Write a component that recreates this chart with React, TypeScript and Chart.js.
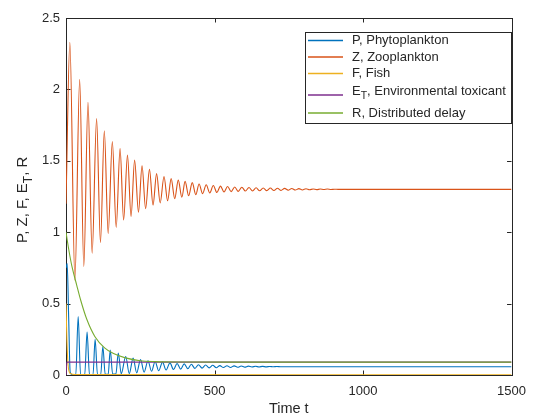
import React, { useEffect, useRef } from "react";
import { Chart, registerables } from "chart.js";

Chart.register(...registerables);

// ---------- data ----------
const xTicks = [0, 500, 1000, 1500];
const yTicks = [0, 0.5, 1, 1.5, 2, 2.5];

const seriesNames = ["P, Phytoplankton", "Z, Zooplankton", "F, Fish", "E_T, Environmental toxicant", "R, Distributed delay"];
const seriesColors = ["#0072BD", "#D95319", "#EDB120", "#7E2F8E", "#77AC30"];

// P, Phytoplankton: times and values of turning points
const pTime = [0, 4, 9, 14, 20, 33, 41, 49, 63, 71, 79, 91, 98, 106, 117, 124, 132, 142, 149, 157, 168, 176, 186, 201, 213, 226, 238, 251, 263, 276, 288, 300, 312, 325, 337, 350, 362, 374, 386, 398, 410, 422, 434, 446, 458, 470, 482, 494, 506, 518, 530, 542, 554, 566, 578, 590, 602, 614, 626, 638, 650, 662, 674, 686, 698, 710, 722, 1500];
const pValue = [0.75, 0.78, 0.4, 0.02, 0.003, 0.003, 0.41, 0.003, 0.003, 0.3, 0.003, 0.003, 0.25, 0.004, 0.004, 0.2, 0.005, 0.005, 0.175, 0.006, 0.007, 0.153, 0.008, 0.13, 0.01, 0.118, 0.015, 0.108, 0.02, 0.1, 0.026, 0.095, 0.03, 0.09, 0.035, 0.085, 0.038, 0.081, 0.041, 0.078, 0.044, 0.075, 0.046, 0.072, 0.048, 0.07, 0.05, 0.068, 0.051, 0.066, 0.052, 0.065, 0.053, 0.064, 0.054, 0.063, 0.055, 0.062, 0.056, 0.061, 0.0565, 0.0605, 0.057, 0.06, 0.0575, 0.0595, 0.058, 0.058];

// Z, Zooplankton
const zTime = [0, 13, 30, 46, 60, 74, 88, 103, 116, 129, 142, 156, 169, 182, 194, 207, 219, 231, 244, 256, 268, 281, 293, 305, 317, 330, 342, 354, 366, 378, 390, 401, 413, 425, 437, 448, 460, 472, 484, 496, 508, 520, 532, 544, 556, 568, 580, 592, 604, 616, 628, 640, 652, 664, 676, 688, 700, 712, 724, 736, 748, 760, 772, 784, 796, 808, 820, 832, 844, 856, 868, 880, 892, 904, 916, 928, 1500];
const zValue = [1.2, 2.33, 0.665, 2.07, 0.76, 1.91, 0.853, 1.795, 0.926, 1.71, 0.99, 1.635, 1.034, 1.585, 1.085, 1.54, 1.11, 1.505, 1.14, 1.465, 1.165, 1.44, 1.19, 1.41, 1.205, 1.39, 1.22, 1.375, 1.235, 1.365, 1.245, 1.356, 1.255, 1.347, 1.263, 1.338, 1.27, 1.332, 1.275, 1.327, 1.278, 1.323, 1.281, 1.32, 1.284, 1.317, 1.286, 1.315, 1.288, 1.313, 1.289, 1.311, 1.29, 1.31, 1.291, 1.309, 1.292, 1.308, 1.293, 1.307, 1.294, 1.306, 1.295, 1.305, 1.296, 1.304, 1.297, 1.303, 1.298, 1.302, 1.299, 1.302, 1.299, 1.301, 1.3, 1.3, 1.3];

// F, Fish
const fTime = [0, 3, 8, 15, 30, 1500];
const fValue = [0.5, 0.25, 0.05, 0.01, 0.003, 0.002];

// E_T, Environmental toxicant
const eTime = [0, 3, 1500];
const eValue = [0, 0.09, 0.09];

// R, Distributed delay
const rTime = [0, 10, 20, 36, 50, 70, 97, 130, 160, 200, 250, 300, 400, 600, 1500];
const rValue = [1.0, 0.87, 0.76, 0.63, 0.52, 0.39, 0.27, 0.19, 0.15, 0.12, 0.1, 0.094, 0.091, 0.09, 0.09];

const seriesTimes = [pTime, zTime, fTime, eTime, rTime];
const seriesValues = [pValue, zValue, fValue, eValue, rValue];

const FONT = "'Liberation Sans', Arial, Helvetica, sans-serif";
const AXIS_COLOR = "#262626";

function drawSubText(ctx: CanvasRenderingContext2D, text: string, x: number, y: number, size: number) {
  const parts: { t: string; sub: boolean }[] = [];
  let i = 0;
  let buf = "";
  while (i < text.length) {
    if (text[i] === "_" && i + 1 < text.length) {
      if (buf) parts.push({ t: buf, sub: false });
      buf = "";
      parts.push({ t: text[i + 1], sub: true });
      i += 2;
    } else {
      buf += text[i];
      i++;
    }
  }
  if (buf) parts.push({ t: buf, sub: false });
  let cx = x;
  for (const p of parts) {
    if (p.sub) {
      ctx.font = `${size * 0.8}px ${FONT}`;
      ctx.fillText(p.t, cx, y + size * 0.35);
    } else {
      ctx.font = `${size}px ${FONT}`;
      ctx.fillText(p.t, cx, y);
    }
    cx += ctx.measureText(p.t).width;
  }
  return cx - x;
}

function measureSubText(ctx: CanvasRenderingContext2D, text: string, size: number) {
  let w = 0;
  let i = 0;
  while (i < text.length) {
    if (text[i] === "_" && i + 1 < text.length) {
      ctx.font = `${size * 0.8}px ${FONT}`;
      w += ctx.measureText(text[i + 1]).width;
      i += 2;
    } else {
      ctx.font = `${size}px ${FONT}`;
      w += ctx.measureText(text[i]).width;
      i++;
    }
  }
  return w;
}

const matlabPlugin = {
  id: "matlabLook",
  beforeDatasetsDraw(chart: any) {
    const { ctx, chartArea: a, scales } = chart;
    ctx.save();
    ctx.strokeStyle = AXIS_COLOR;
    ctx.lineWidth = 1;
    ctx.strokeRect(Math.round(a.left) + 0.5, Math.round(a.top) + 0.5, Math.round(a.right - a.left), Math.round(a.bottom - a.top));
    const tl = 4.5;
    ctx.beginPath();
    for (const v of xTicks) {
      const px = Math.round(scales.x.getPixelForValue(v)) + 0.5;
      ctx.moveTo(px, a.bottom);
      ctx.lineTo(px, a.bottom - tl);
      ctx.moveTo(px, a.top);
      ctx.lineTo(px, a.top + tl);
    }
    for (const v of yTicks) {
      const py = Math.round(scales.y.getPixelForValue(v)) + 0.5;
      ctx.moveTo(a.left, py);
      ctx.lineTo(a.left + tl, py);
      ctx.moveTo(a.right, py);
      ctx.lineTo(a.right - tl, py);
    }
    ctx.stroke();
    ctx.restore();
  },
  afterDraw(chart: any) {
    const { ctx, chartArea: a } = chart;
    ctx.save();
    ctx.fillStyle = AXIS_COLOR;
    ctx.textBaseline = "middle";
    // x axis title
    ctx.font = `14.5px ${FONT}`;
    ctx.textAlign = "center";
    ctx.fillText("Time t", (a.left + a.right) / 2, 409);
    // y axis title (rotated)
    const yTitle = "P, Z, F, E_T, R";
    ctx.save();
    ctx.translate(23, 198);
    ctx.rotate(-Math.PI / 2);
    ctx.textAlign = "left";
    const w = measureSubText(ctx, yTitle, 15);
    drawSubText(ctx, yTitle, -w / 2, 0, 15);
    ctx.restore();

    // legend
    const lx = 305, ly = 32, lw = 206, lh = 91;
    ctx.fillStyle = "#ffffff";
    ctx.fillRect(lx, ly, lw, lh);
    ctx.strokeStyle = AXIS_COLOR;
    ctx.lineWidth = 1;
    ctx.strokeRect(lx + 0.5, ly + 0.5, lw, lh);
    const rowText = [40.5, 57, 73.5, 91.5, 113];
    const rowLine = [40.5, 57, 73.5, 95, 113];
    ctx.textAlign = "left";
    for (let k = 0; k < seriesNames.length; k++) {
      ctx.strokeStyle = seriesColors[k];
      ctx.lineWidth = 1.6;
      ctx.beginPath();
      ctx.moveTo(308, rowLine[k]);
      ctx.lineTo(343, rowLine[k]);
      ctx.stroke();
      ctx.fillStyle = AXIS_COLOR;
      drawSubText(ctx, seriesNames[k], 352, rowText[k], 13);
    }
    ctx.restore();
  },
};

export default function App() {
  const ref = useRef<HTMLCanvasElement | null>(null);
  useEffect(() => {
    document.body.style.margin = "0";
    const canvas = ref.current;
    if (!canvas) return;
    const order = [5, 4, 3, 2, 1];
    const datasets = seriesNames.map((name, k) => ({
      label: name,
      data: seriesTimes[k].map((t, j) => ({ x: t, y: seriesValues[k][j] })),
      borderColor: seriesColors[k],
      backgroundColor: seriesColors[k],
      borderWidth: 1.1,
      pointRadius: 0,
      fill: false,
      cubicInterpolationMode: "monotone" as const,
      order: order[k],
    }));
    const chart = new Chart(canvas, {
      type: "line",
      data: { datasets },
      options: {
        animation: false,
        responsive: false,
        maintainAspectRatio: false,
        layout: { padding: { top: 18, right: 17, left: 0, bottom: 0 } },
        plugins: { legend: { display: false }, tooltip: { enabled: false }, title: { display: false } },
        scales: {
          x: {
            type: "linear",
            min: 0,
            max: 1500,
            afterBuildTicks: (s: any) => { s.ticks = xTicks.map((v) => ({ value: v })); },
            afterFit: (s: any) => { s.height = 42; },
            grid: { display: false, drawTicks: false },
            border: { display: false },
            ticks: { padding: 9, color: AXIS_COLOR, font: { family: FONT, size: 13 }, maxRotation: 0, autoSkip: false, callback: (v: any) => String(v) },
          },
          y: {
            type: "linear",
            min: 0,
            max: 2.5,
            afterBuildTicks: (s: any) => { s.ticks = yTicks.map((v) => ({ value: v })); },
            afterFit: (s: any) => { s.width = 66; },
            grid: { display: false, drawTicks: false },
            border: { display: false },
            ticks: { padding: 6, color: AXIS_COLOR, font: { family: FONT, size: 13 }, autoSkip: false, callback: (v: any) => String(v) },
          },
        },
      },
      plugins: [matlabPlugin],
    });
    return () => chart.destroy();
  }, []);
  return <canvas ref={ref} width={535} height={417} style={{ display: "block", width: 535, height: 417 }} />;
}
